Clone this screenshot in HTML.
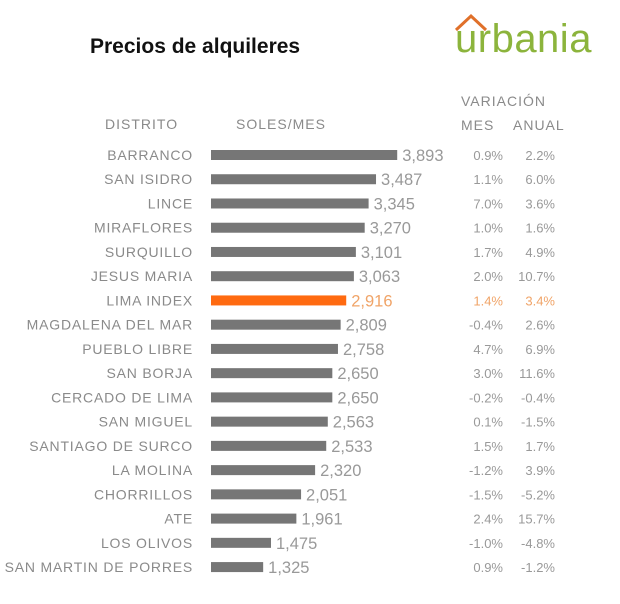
<!DOCTYPE html>
<html><head><meta charset="utf-8"><style>
body{margin:0;width:620px;height:599px;background:#fff;overflow:hidden;font-family:"Liberation Sans",sans-serif}
</style></head><body>
<svg width="620" height="599">
<text x="90" y="53" font-size="21" font-weight="bold" fill="#111">Precios de alquileres</text>
<g>
<path d="M456,30 L471,16 L486,30" fill="none" stroke="#e0702a" stroke-width="3"/>
<text x="455" y="52" font-size="40" fill="#8cb43c" letter-spacing="0.5">urbania</text>
</g>
<g font-size="14" fill="#8a8a8a" letter-spacing="1">
<text x="105" y="129">DISTRITO</text>
<text x="236" y="129">SOLES/MES</text>
<text x="461" y="106">VARIACIÓN</text>
<text x="461" y="130">MES</text>
<text x="513" y="130">ANUAL</text>
</g>
<g id="rows"></g>
</svg>
<script>
const districts=["BARRANCO","SAN ISIDRO","LINCE","MIRAFLORES","SURQUILLO","JESUS MARIA","LIMA INDEX","MAGDALENA DEL MAR","PUEBLO LIBRE","SAN BORJA","CERCADO DE LIMA","SAN MIGUEL","SANTIAGO DE SURCO","LA MOLINA","CHORRILLOS","ATE","LOS OLIVOS","SAN MARTIN DE PORRES"];
const prices=[3893,3487,3345,3270,3101,3063,2916,2809,2758,2650,2650,2563,2533,2320,2051,1961,1475,1325];
const monthly=["0.9%","1.1%","7.0%","1.0%","1.7%","2.0%","1.4%","-0.4%","4.7%","3.0%","-0.2%","0.1%","1.5%","-1.2%","-1.5%","2.4%","-1.0%","0.9%"];
const annual=["2.2%","6.0%","3.6%","1.6%","4.9%","10.7%","3.4%","2.6%","6.9%","11.6%","-0.4%","-1.5%","1.7%","3.9%","-5.2%","15.7%","-4.8%","-1.2%"];
const xs=v=>194+v*0.0522;
const ys=i=>155+i*24.24;
const NS="http://www.w3.org/2000/svg";
const g=document.getElementById('rows');
function t(x,y,s,anchor,fill,size){const e=document.createElementNS(NS,'text');e.setAttribute('x',x);e.setAttribute('y',y);e.setAttribute('text-anchor',anchor);e.setAttribute('fill',fill);e.setAttribute('font-size',size);e.textContent=s;g.appendChild(e);return e;}
districts.forEach((d,i)=>{
 const hi=d==="LIMA INDEX";
 const y=ys(i);
 const l=t(193,y+5,d,'end','#8a8a8a',14);l.setAttribute('letter-spacing','0.8');
 
 
 const r=document.createElementNS(NS,'rect');
 r.setAttribute('x',211);r.setAttribute('y',y-5);r.setAttribute('width',xs(prices[i])-211);r.setAttribute('height',10);
 r.setAttribute('fill',hi?'#ff6a10':'#767676');
 
 
 g.appendChild(r);
 const v=t(xs(prices[i])+5,y+6,prices[i].toLocaleString('en-US'),'start',hi?'#f0a468':'#999',16.5);
 
 
 const m=t(503,y+5,monthly[i],'end',hi?'#f0a468':'#999',13);
 
 
 const a=t(555,y+5,annual[i],'end',hi?'#f0a468':'#999',13);
 
 
});
</script>
</body></html>
